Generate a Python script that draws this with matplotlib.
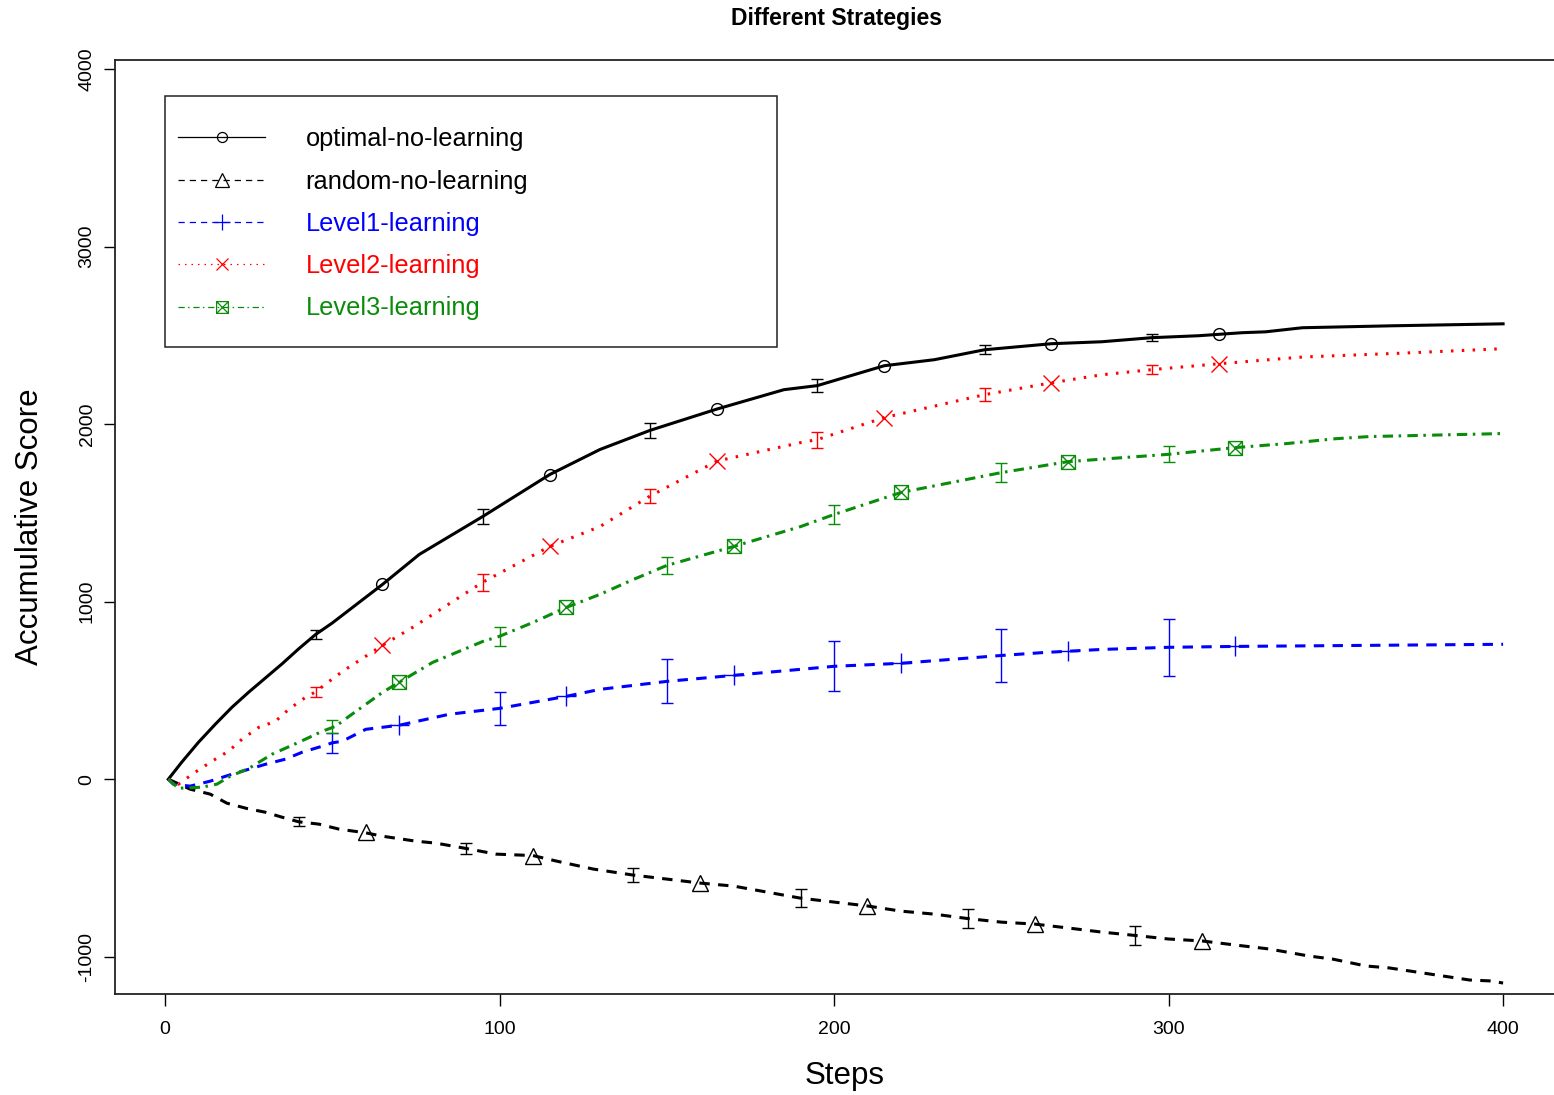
import matplotlib
matplotlib.use('Agg')
import matplotlib.pyplot as plt
from matplotlib.path import Path
from matplotlib.lines import Line2D
from matplotlib.patches import Rectangle

plt.rcParams['font.family'] = ['Liberation Sans', 'DejaVu Sans']
plt.rcParams['lines.scale_dashes'] = False
plt.rcParams['axes.unicode_minus'] = False

# ---- data ----
steps_opt = [1, 5, 10, 15, 20, 25, 30, 35, 40, 45, 50, 65, 76, 95, 115, 130, 145, 165, 185, 195,
             215, 230, 245, 265, 280, 295, 309, 322, 329, 340, 367, 385, 400]
score_opt = [0, 96, 208, 309, 405, 490, 570, 650, 735, 815, 880, 1097, 1266, 1480, 1716, 1857, 1965,
             2085, 2194, 2217, 2329, 2363, 2419, 2453, 2464, 2487, 2498, 2515, 2520, 2543, 2554, 2560, 2565]

steps_rnd = [1, 7.5, 13.5, 18.5, 24.5, 30, 35, 40, 46, 52, 60, 65, 75, 81, 90, 99, 110, 117, 128, 140,
             160, 170, 180, 190, 200, 210, 220, 230, 240, 250, 260, 270, 280, 290, 300, 310, 320, 330,
             342, 349, 359, 366, 372, 378, 384, 390, 396, 400]
score_rnd = [0, -56, -84, -135, -165, -186, -214, -240, -253, -281, -302, -321, -349, -360, -390, -422,
             -430, -461, -506, -540, -585, -602, -636, -670, -692, -714, -743, -760, -785, -805, -816,
             -838, -861, -880, -900, -911, -934, -956, -996, -1013, -1052, -1063, -1080, -1097, -1114,
             -1131, -1136, -1148]

steps_l1 = [1, 2.5, 7.5, 13.5, 20, 25, 30, 36, 41, 47, 50, 53, 60, 70, 85, 100, 110, 120, 130, 150,
            170, 200, 220, 250, 263, 280, 300, 320, 400]
score_l1 = [0, -28, -39, -11, 28, 56, 84, 113, 152, 186, 205, 214, 281, 304, 366, 399, 433, 467, 506,
            551, 585, 636, 653, 697, 714, 731, 743, 748, 760]

steps_l2 = [1, 4, 9, 14, 19, 23, 28, 33, 37, 42, 45, 51, 54, 65, 74, 95, 115, 130, 145, 165, 190, 195,
            215, 245, 265, 280, 295, 315, 340, 370, 400]
score_l2 = [0, -28, 39, 101, 158, 225, 292, 326, 394, 461, 492, 579, 619, 754, 855, 1110, 1311, 1423,
            1595, 1792, 1896, 1913, 2037, 2166, 2233, 2278, 2307, 2340, 2378, 2400, 2425]

steps_l3 = [1, 4, 11, 15.5, 19.5, 25, 32, 40, 47, 51, 55, 65, 70, 80, 95, 100, 110, 120, 130, 140, 150,
            170, 190, 200, 220, 250, 270, 300, 320, 335, 350, 360, 400]
score_l3 = [0, -51, -45, -28, 17, 60, 141, 208, 270, 298, 354, 489, 546, 658, 776, 805, 883, 968, 1041,
            1125, 1204, 1311, 1423, 1491, 1615, 1727, 1789, 1830, 1868, 1890, 1918, 1930, 1947]

# marker positions
mk_opt_x = [65, 115, 165, 215, 265, 315]
mk_opt_y = [1097, 1716, 2085, 2329, 2453, 2509]
mk_rnd_x = [60, 110, 160, 210, 260, 310]
mk_rnd_y = [-300, -430, -585, -714, -816, -911]
mk_l1_x = [70, 120, 170, 220, 270, 320]
mk_l1_y = [304, 467, 585, 653, 720, 748]
mk_l2_x = [65, 115, 165, 215, 265, 315]
mk_l2_y = [754, 1311, 1792, 2037, 2233, 2340]
mk_l3_x = [70, 120, 170, 220, 270, 320]
mk_l3_y = [546, 968, 1311, 1615, 1789, 1868]

# error bars (centre, half-width)
eb_opt_x = [45, 95, 145, 195, 245, 295]
eb_opt_y = [815, 1480, 1962, 2217, 2419, 2487]
eb_opt_e = [28, 42, 42, 35, 25, 20]
eb_rnd_x = [40, 90, 140, 190, 240, 290]
eb_rnd_y = [-240, -392, -540, -670, -785, -880]
eb_rnd_e = [25, 31, 38, 50, 55, 55]
eb_l1_x = [50, 100, 150, 200, 250, 300]
eb_l1_y = [205, 399, 551, 636, 697, 743]
eb_l1_e = [56, 95, 124, 140, 150, 160]
eb_l2_x = [45, 95, 145, 195, 245, 295]
eb_l2_y = [492, 1110, 1595, 1913, 2166, 2307]
eb_l2_e = [28, 48, 42, 45, 35, 25]
eb_l3_x = [50, 100, 150, 200, 250, 300]
eb_l3_y = [298, 805, 1204, 1491, 1727, 1830]
eb_l3_e = [35, 55, 50, 55, 55, 45]

labels = ['optimal-no-learning', 'random-no-learning', 'Level1-learning',
          'Level2-learning', 'Level3-learning']

GREEN = '#0a8c0a'

# square with a cross inside (R pch 7)
boxx = Path([(-1, -1), (1, -1), (1, 1), (-1, 1), (-1, -1), (-1, -1), (1, 1), (-1, 1), (1, -1)],
            [Path.MOVETO, Path.LINETO, Path.LINETO, Path.LINETO, Path.CLOSEPOLY,
             Path.MOVETO, Path.LINETO, Path.MOVETO, Path.LINETO])

fig = plt.figure(figsize=(15.54, 10.95), dpi=100)
ax = fig.add_axes([0.074, 0.0922, 0.935, 0.853])

series = [
    (steps_opt, score_opt, mk_opt_x, mk_opt_y, eb_opt_x, eb_opt_y, eb_opt_e, 'black', (None, None), 'o', 8.5),
    (steps_rnd, score_rnd, mk_rnd_x, mk_rnd_y, eb_rnd_x, eb_rnd_y, eb_rnd_e, 'black', (7.5, 6), '^', 11.5),
    (steps_l1, score_l1, mk_l1_x, mk_l1_y, eb_l1_x, eb_l1_y, eb_l1_e, 'blue', (7.5, 6), '+', 14),
    (steps_l2, score_l2, mk_l2_x, mk_l2_y, eb_l2_x, eb_l2_y, eb_l2_e, 'red', (1.8, 6), 'x', 11),
    (steps_l3, score_l3, mk_l3_x, mk_l3_y, eb_l3_x, eb_l3_y, eb_l3_e, GREEN, (7.5, 4, 1.8, 4.5), boxx, 10),
]

handles = []
for sx, sy, mx, my, ex, ey, ee, col, dash, mk, ms in series:
    ln, = ax.plot(sx, sy, color=col, lw=2.2)
    if dash[0] is not None:
        ln.set_dashes(dash)
    ax.plot(mx, my, ls='none', marker=mk, ms=ms, mec=col, mfc='none', mew=1.0)
    ax.errorbar(ex, ey, yerr=ee, fmt='none', ecolor=col, elinewidth=1.0, capsize=4.5, capthick=1.0)
    h = Line2D([], [], color=col, lw=0.9, marker=mk, ms=ms * 0.85, mec=col, mfc='none', mew=0.9)
    if dash[0] is not None:
        h.set_dashes(tuple(d * 0.6 for d in dash))
    handles.append(h)

ax.set_xlim(-14.95, 419.4)
ax.set_ylim(-1210, 4051)
ax.set_xticks([0, 100, 200, 300, 400])
ax.set_yticks([-1000, 0, 1000, 2000, 3000, 4000])
ax.tick_params(axis='x', length=8.6, width=1, pad=11, labelsize=14)
ax.tick_params(axis='y', length=8, width=1, pad=6, labelsize=14)
for t in ax.get_yticklabels():
    t.set_rotation(90)
    t.set_va('center')
for side in ['left', 'bottom', 'top']:
    ax.spines[side].set_linewidth(1.3)
    ax.spines[side].set_color('#222222')
ax.spines['right'].set_visible(False)

ax.set_xlabel('Steps', fontsize=22.5)
ax.xaxis.set_label_coords(0.502, -0.088)
ax.xaxis.label.set_va('center')
ax.set_ylabel('Accumulative Score', fontsize=22.5)
ax.yaxis.set_label_coords(-0.0588, 0.5)
ax.yaxis.label.set_va('center')

fig.text(0.5386, 1 - 18 / 1095, 'Different Strategies', fontsize=16.5, fontweight='bold',
         ha='center', va='center')

# legend box drawn by hand, as R does
ax.add_patch(Rectangle((0.0346, 0.6927), 0.4208, 0.2687, transform=ax.transAxes,
                       fill=False, edgecolor='#222222', lw=1.1, zorder=5))
leg = ax.legend(handles, labels, loc='upper left', bbox_to_anchor=(0.0436, 0.928),
                frameon=False, fontsize=18.3, handlelength=3.4, handletextpad=1.6,
                labelspacing=0.72, borderpad=0, borderaxespad=0, numpoints=1)
for txt, (_, _, _, _, _, _, _, col, _, _, _) in zip(leg.get_texts(), series):
    txt.set_color(col)

fig.savefig('out.png', dpi=100)
